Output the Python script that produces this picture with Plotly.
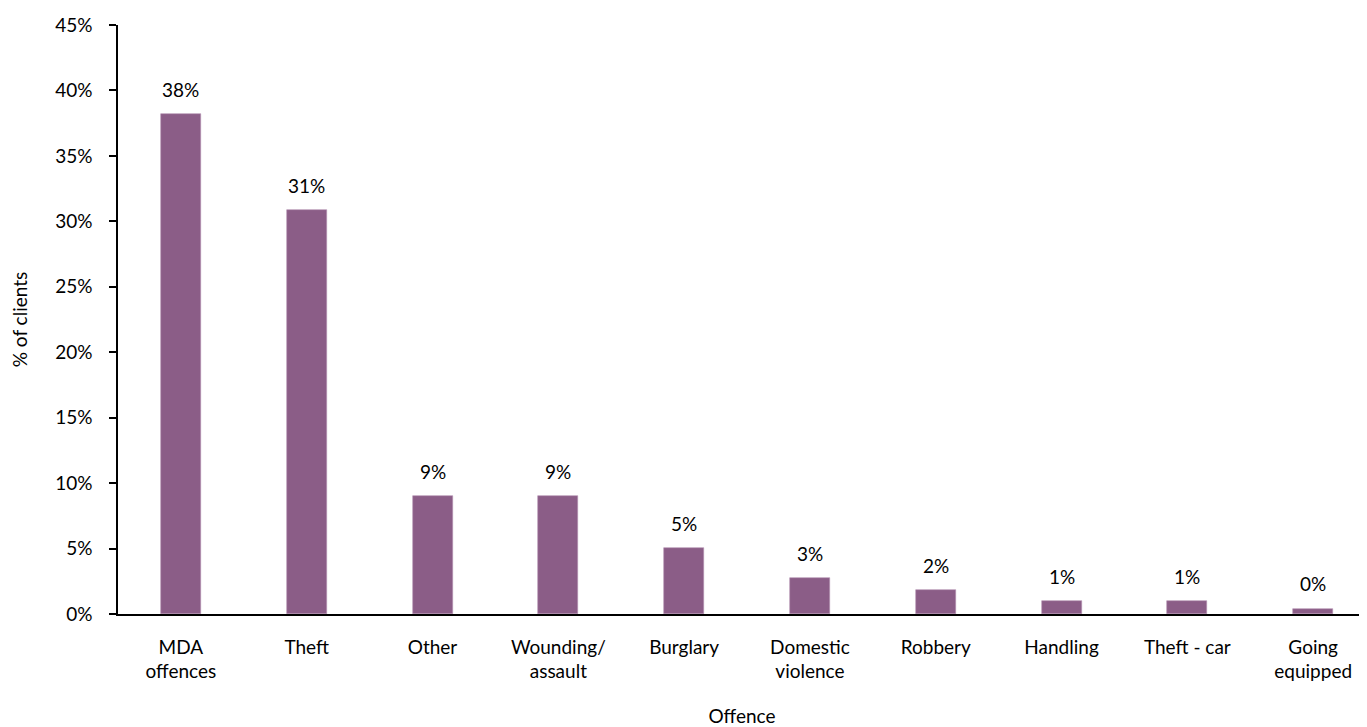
import plotly.graph_objects as go

categories = ["MDA<br>offences", "Theft", "Other", "Wounding/<br>assault", "Burglary",
              "Domestic<br>violence", "Robbery", "Handling", "Theft - car", "Going<br>equipped"]
values = [38.2, 30.85, 8.98, 8.98, 5.03, 2.74, 1.82, 0.96, 0.96, 0.42]
labels = ["38%", "31%", "9%", "9%", "5%", "3%", "2%", "1%", "1%", "0%"]
y_ticks = [0, 5, 10, 15, 20, 25, 30, 35, 40, 45]
y_tick_text = [f"{t}%" for t in y_ticks]

FONT = "Lato, 'Open Sans', sans-serif"
FS = 19
BAR = "#8B5D87"

x_idx = list(range(len(categories)))

fig = go.Figure()
fig.add_trace(go.Bar(
    x=x_idx, y=values, width=0.318,
    marker=dict(color=BAR, line=dict(color="#B48FB0", width=0.6)),
    hoverinfo="skip",
))

for xi, v, lab in zip(x_idx, values, labels):
    fig.add_annotation(x=xi, y=v, text=lab, showarrow=False,
                       yanchor="middle", yshift=25,
                       font=dict(family=FONT, size=FS, color="#000000"))

# page body has an 8px default margin, so the figure is sized to fit the window
fig.update_layout(
    width=1359, height=719,
    margin=dict(l=110, r=1, t=17, b=113),
    plot_bgcolor="white", paper_bgcolor="white",
    showlegend=False,
    font=dict(family=FONT, size=FS, color="#000000"),
    bargap=0,
)
fig.update_xaxes(
    range=[-0.5, 9.42],
    tickmode="array", tickvals=x_idx, ticktext=categories,
    showline=True, linecolor="#000000", linewidth=1.5,
    ticks="", showgrid=False, zeroline=False,
    ticklabelstandoff=15,
    tickfont=dict(family=FONT, size=FS),
    title=dict(text="Offence", font=dict(family=FONT, size=FS), standoff=28),
)
fig.update_yaxes(
    range=[0, 45],
    tickmode="array", tickvals=y_ticks, ticktext=y_tick_text,
    showline=True, linecolor="#000000", linewidth=1.5,
    ticks="outside", ticklen=7, tickwidth=1.5, tickcolor="#000000",
    showgrid=False, zeroline=False,
    ticklabelstandoff=13,
    tickfont=dict(family=FONT, size=FS),
    title=dict(text="% of clients", font=dict(family=FONT, size=FS), standoff=24),
)

fig.write_html("out.html")
